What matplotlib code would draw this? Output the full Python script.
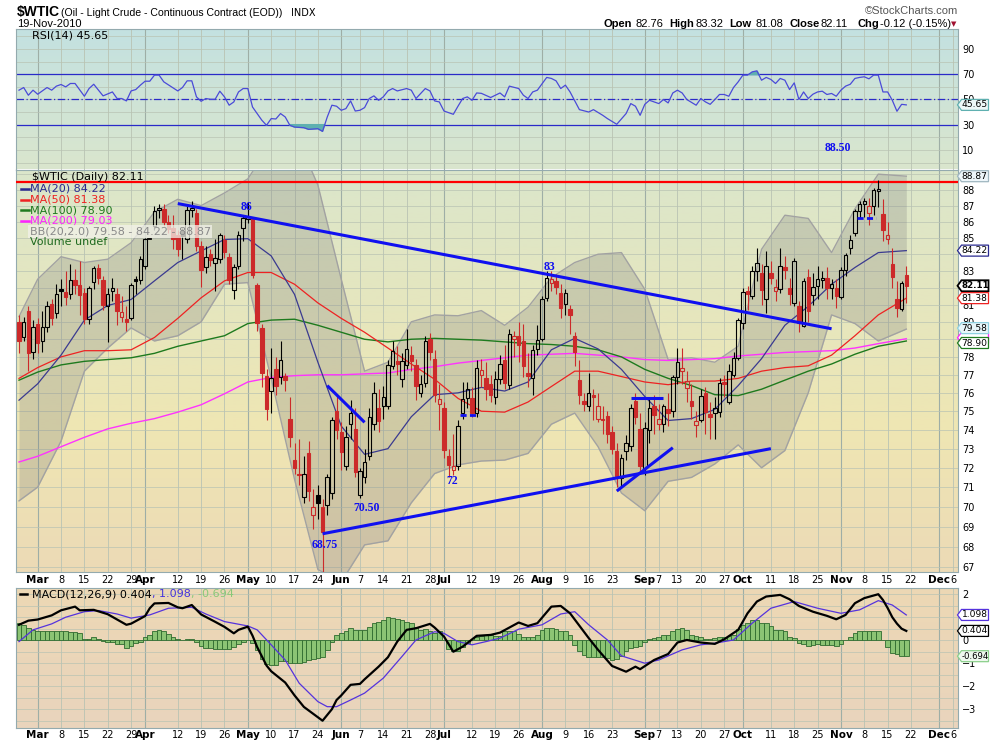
import numpy as np
import pandas as pd
import matplotlib
matplotlib.use('Agg')
import matplotlib.pyplot as plt
from matplotlib.patches import Rectangle, Polygon
from matplotlib.lines import Line2D
from matplotlib.colors import LinearSegmentedColormap

plt.rcParams['font.family'] = ['DejaVu Sans']

# ---------------------------------------------------------------- calendar
# trading days shown on the chart (Good Friday kept, exchange holidays dropped)
holidays = ['2010-05-31', '2010-07-05', '2010-09-06', '2010-11-25']
cal = pd.bdate_range('2010-02-23', '2010-12-10', freq='C', holidays=holidays)


def day(d):
    # trading days counted from 1 Mar 2010
    return cal.get_loc(pd.Timestamp(d)) - 4


# ---------------------------------------------------------------- price data
# daily candles, 23 Feb 2010 .. 19 Nov 2010
opens = [80.0, 79.1, 80.6, 78.3, 79.9, 78.9, 79.7, 81.05, 80.5, 81.9,
         81.75, 81.6, 82.45, 82.15, 81.7, 80.15, 82.35, 83.15, 82.45, 80.9,
         81.8, 81.6, 80.3, 80.15, 80.25, 82.5, 82.45, 83.3, 84.9, 85.7,
         86.75, 86.8, 85.95, 85.6, 85.2, 85.45, 84.9, 86.75, 86.55, 84.5,
         83.25, 84.0, 83.45, 83.7, 84.85, 83.85, 81.85, 83.3, 85.63, 86.15,
         86.2, 82.15, 79.65, 76.95, 76.1, 77.3, 76.9, 76.95, 74.6, 72.4,
         71.7, 70.5, 72.75, 69.6, 70.6, 70.0, 70.1, 70.7, 75.0, 73.9,
         72.1, 74.3, 74.05, 70.6, 71.5, 72.6, 74.3, 75.2, 75.3, 75.3,
         77.5, 77.75, 76.75, 77.55, 78.1, 77.55, 76.0, 76.55, 79.0, 77.9,
         75.4, 75.2, 72.6, 71.87, 72.1, 74.9, 75.7, 75.7, 74.9, 77.0,
         76.8, 76.5, 75.8, 76.75, 77.85, 76.45, 79.0, 79.2, 78.9, 77.1,
         76.8, 78.45, 79.0, 81.4, 82.3, 82.4, 81.7, 81.05, 80.75, 79.2,
         76.7, 75.55, 75.3, 75.9, 74.6, 74.6, 74.75, 73.9, 72.9, 71.45,
         72.85, 73.15, 75.55, 74.05, 72.0, 74.0, 75.3, 74.3, 74.3, 75.1,
         75.0, 76.85, 77.2, 76.27, 75.55, 74.25, 74.55, 76.0, 74.85, 74.9,
         74.95, 76.6, 75.5, 77.0, 77.95, 79.95, 81.8, 81.5, 83.0, 82.85,
         81.3, 82.85, 81.8, 81.9, 83.2, 82.0, 81.1, 80.9, 79.75, 82.65,
         81.55, 82.1, 82.45, 82.6, 82.0, 82.0, 81.45, 83.05, 84.4, 85.3,
         86.65, 87.1, 86.55, 87.0, 87.9, 86.45, 84.9, 83.4, 81.3, 80.75, 82.76]
highs = [80.4, 80.3, 80.9, 80.1, 80.2, 80.6, 81.2, 81.3, 82.2, 82.5,
         83.0, 83.4, 83.1, 83.6, 82.0, 82.1, 83.3, 83.4, 82.7, 82.0,
         82.6, 82.0, 81.5, 80.9, 82.3, 82.7, 83.9, 85.0, 84.9, 87.0,
         87.1, 87.1, 86.4, 86.4, 85.5, 85.6, 87.0, 87.3, 86.8, 84.8,
         84.5, 84.3, 84.9, 85.3, 85.2, 84.1, 83.4, 85.4, 86.4, 87.2,
         86.3, 82.3, 79.9, 77.3, 78.5, 78.0, 78.9, 77.1, 75.8, 73.3,
         73.5, 72.6, 73.4, 70.9, 71.1, 70.4, 71.7, 74.7, 75.9, 74.4,
         74.2, 75.6, 75.2, 72.0, 73.0, 75.2, 76.6, 76.2, 76.4, 77.8,
         78.9, 78.6, 78.2, 79.6, 78.6, 77.9, 77.0, 79.2, 79.35, 78.4,
         76.5, 75.5, 73.0, 73.8, 74.5, 76.6, 76.6, 76.3, 77.8, 77.9,
         77.7, 77.0, 77.2, 78.1, 78.7, 79.6, 79.5, 80.0, 79.9, 78.2,
         78.7, 79.8, 81.5, 83.0, 83.0, 82.8, 82.2, 81.9, 81.0, 79.4,
         77.8, 76.0, 77.1, 76.2, 76.0, 75.3, 75.0, 74.2, 73.3, 72.7,
         73.7, 75.4, 76.0, 74.9, 74.4, 75.8, 75.9, 75.4, 75.4, 76.0,
         77.0, 78.5, 78.5, 77.2, 76.5, 75.0, 76.2, 76.3, 75.5, 75.8,
         76.8, 77.0, 77.6, 78.3, 80.2, 82.0, 82.1, 83.3, 84.4, 83.4,
         84.2, 83.6, 82.5, 84.4, 83.9, 82.6, 83.8, 81.2, 82.6, 83.1,
         82.9, 83.3, 83.0, 83.2, 82.5, 82.5, 83.2, 84.1, 85.2, 86.8,
         87.3, 87.5, 87.5, 88.1, 88.65, 87.4, 86.0, 84.4, 82.4, 82.4, 83.32]
lows = [78.2, 78.9, 77.2, 77.9, 78.2, 78.3, 79.4, 79.8, 80.2, 80.9,
        81.0, 81.3, 81.6, 80.4, 79.9, 79.9, 81.9, 82.2, 80.7, 78.85,
        81.2, 79.8, 80.0, 79.5, 80.1, 81.6, 82.2, 83.1, 84.9, 85.5,
        86.2, 85.7, 85.3, 84.3, 83.9, 83.7, 84.7, 86.3, 84.2, 82.05,
        82.9, 83.3, 81.8, 83.5, 83.8, 82.2, 81.3, 83.1, 84.8, 85.9,
        82.6, 79.5, 76.3, 74.5, 74.9, 75.9, 76.5, 76.1, 73.1, 71.7,
        71.1, 70.2, 70.3, 68.9, 69.4, 64.24, 69.6, 70.4, 73.5, 71.9,
        71.9, 73.5, 71.5, 70.45, 71.2, 72.4, 74.0, 73.9, 74.6, 75.1,
        77.3, 77.0, 76.3, 77.3, 77.2, 75.6, 75.8, 76.3, 77.8, 75.5,
        74.0, 72.5, 71.5, 71.6, 71.9, 74.6, 75.2, 74.7, 74.7, 76.3,
        75.6, 75.5, 75.4, 76.5, 76.2, 76.2, 78.0, 77.7, 76.9, 76.3,
        75.9, 78.1, 78.9, 81.2, 81.8, 81.6, 80.2, 80.4, 79.3, 77.5,
        75.4, 75.0, 75.0, 74.5, 74.4, 73.8, 73.3, 72.7, 71.0, 71.0,
        72.4, 72.9, 74.3, 71.7, 71.6, 73.3, 73.8, 74.0, 73.9, 74.2,
        74.7, 76.5, 76.5, 75.5, 74.6, 73.6, 74.4, 73.8, 73.5, 73.5,
        74.7, 75.8, 75.4, 76.9, 77.8, 79.6, 80.7, 81.3, 82.4, 81.0,
        80.5, 82.2, 81.2, 81.7, 82.5, 81.0, 80.9, 79.4, 79.7, 80.0,
        81.0, 81.3, 82.0, 81.3, 81.3, 80.8, 81.3, 82.7, 84.0, 85.1,
        86.2, 86.3, 85.8, 86.4, 86.9, 84.8, 84.6, 82.0, 80.3, 80.6, 81.08]
closes = [78.9, 80.0, 78.2, 79.7, 78.8, 79.7, 80.9, 80.2, 81.6, 81.8,
          81.45, 82.45, 82.15, 81.55, 80.15, 81.95, 83.15, 82.55, 81.0, 81.65,
          81.95, 80.6, 80.55, 80.0, 82.15, 82.4, 83.7, 84.9, 84.9, 86.65,
          86.85, 85.95, 85.55, 84.9, 84.3, 85.1, 86.75, 86.85, 84.5, 83.05,
          83.85, 83.65, 83.75, 85.15, 84.15, 82.45, 83.2, 85.2, 86.2, 86.3,
          82.75, 79.95, 77.1, 75.1, 76.8, 76.4, 77.8, 76.7, 73.6, 72.0,
          71.6, 71.7, 70.8, 70.0, 70.2, 68.75, 71.5, 74.5, 74.0, 72.8,
          73.6, 74.9, 71.8, 71.85, 72.3, 74.7, 76.0, 74.45, 75.8, 77.55,
          78.35, 77.6, 77.75, 78.45, 77.75, 76.4, 76.5, 78.9, 78.25, 75.9,
          75.65, 72.95, 72.15, 72.1, 74.2, 75.65, 76.2, 74.9, 77.35, 77.25,
          76.2, 75.9, 76.75, 77.6, 76.55, 79.3, 79.2, 78.7, 77.5, 76.95,
          78.4, 78.98, 81.3, 82.6, 82.5, 82.05, 80.8, 81.7, 80.4, 78.25,
          75.9, 75.4, 76.0, 75.8, 75.3, 74.5, 73.8, 73.0, 71.55, 72.5,
          73.3, 75.2, 74.7, 72.1, 74.1, 75.2, 74.8, 74.6, 75.3, 74.9,
          76.85, 77.7, 77.4, 76.64, 75.3, 74.45, 75.85, 74.95, 74.7, 75.2,
          76.55, 76.5, 77.2, 77.95, 80.1, 81.75, 81.6, 83.0, 83.45, 81.85,
          83.3, 82.6, 82.05, 83.3, 83.05, 81.6, 83.6, 79.95, 82.4, 80.6,
          82.05, 82.5, 82.6, 82.0, 82.2, 81.5, 83.05, 83.95, 84.85, 86.65,
          87.1, 87.3, 87.0, 88.0, 88.05, 85.5, 85.2, 82.65, 80.8, 82.25, 82.11]

# moving averages and Bollinger bands, sampled every week (trading day numbers)
ind_days = [-4, 0, 5, 10, 15, 20, 25, 30, 35, 40, 45, 50, 55, 60, 65, 70, 75, 80, 85,
            90, 95, 100, 105, 110, 115, 120, 125, 130, 135, 140, 145, 150, 155, 160,
            165, 170, 175, 180, 186]
ma20 = [75.6, 76.5, 78.1, 80.1, 80.95, 81.3, 82.4, 83.5, 84.2, 84.9, 84.95, 83.9, 81.6,
        77.7, 74.2, 72.7, 73.0, 74.7, 75.9, 76.0, 76.3, 76.1, 76.6, 78.4, 79.05, 78.45,
        77.3, 75.8, 74.5, 74.6, 75.1, 76.4, 77.9, 79.8, 80.9, 82.2, 83.2, 84.1, 84.22]
ma50 = [76.8, 77.4, 78.0, 78.35, 78.35, 78.4, 79.1, 80.2, 81.4, 82.4, 82.9, 82.9, 82.2,
        81.1, 80.2, 79.4, 78.5, 77.6, 76.75, 75.7, 75.0, 74.95, 75.5, 76.35, 77.2, 77.2,
        76.9, 76.6, 76.45, 76.65, 76.65, 76.8, 77.2, 77.4, 77.5, 78.1, 79.2, 80.4, 81.38]
ma100 = [76.7, 77.15, 77.55, 77.75, 77.85, 77.95, 78.2, 78.6, 78.9, 79.2, 79.9, 80.1, 80.15,
         79.8, 79.4, 79.0, 78.85, 79.0, 79.05, 79.0, 78.95, 78.85, 78.75, 78.7, 78.6, 78.4,
         78.0, 77.3, 76.8, 76.4, 75.9, 75.85, 76.2, 76.7, 77.2, 77.6, 78.15, 78.6, 78.9]
ma200 = [72.3, 72.6, 73.1, 73.6, 74.05, 74.35, 74.6, 74.95, 75.35, 75.95, 76.6, 76.85, 76.95,
         77.0, 77.0, 77.05, 77.1, 77.3, 77.45, 77.65, 77.8, 77.95, 78.1, 78.15, 78.2, 78.1,
         78.0, 77.85, 77.8, 77.85, 77.9, 78.05, 78.15, 78.25, 78.3, 78.35, 78.5, 78.75, 79.03]
bb_up = [80.3, 82.5, 83.85, 83.5, 83.7, 84.7, 86.6, 87.4, 87.0, 87.8, 88.7, 91.0, 91.8,
         88.3, 82.5, 77.2, 77.7, 80.0, 80.4, 80.35, 80.65, 79.8, 80.85, 82.6, 83.5, 84.0,
         84.1, 81.9, 77.85, 77.95, 77.7, 78.6, 84.3, 86.4, 86.2, 84.1, 86.8, 89.0, 88.87]
bb_lo = [70.3, 71.0, 73.4, 77.2, 78.5, 79.65, 78.9, 79.2, 80.0, 82.2, 82.3, 76.8, 71.4,
         66.9, 66.3, 68.1, 68.3, 70.2, 71.7, 72.15, 72.35, 72.4, 72.75, 74.3, 74.9, 73.1,
         70.7, 69.8, 71.3, 71.5, 72.2, 73.2, 72.0, 72.9, 76.0, 80.4, 79.9, 78.9, 79.58]

# RSI(14)
rsi_days = [-4, -3, -2, -1, 0, 2, 3, 4, 5, 6, 7, 8, 10, 11, 12, 14, 16, 17, 18, 19, 20, 21,
            22, 23, 24, 25, 26, 27, 30, 31, 32, 33, 34, 35, 36, 37, 38, 39, 40, 41, 42, 43,
            44, 45, 46, 47, 48, 49, 50, 51, 52, 53, 54, 55, 57, 58, 60, 61, 62, 63, 64, 65,
            66, 67, 68, 69, 70, 71, 72, 73, 74, 75, 76, 77, 79, 80, 81, 83, 84, 85, 86, 87,
            89, 90, 91, 92, 93, 94, 95, 97, 98, 99, 100, 101, 103, 104, 105, 106, 107, 109,
            110, 111, 112, 113, 114, 116, 118, 119, 121, 122, 124, 126, 127, 128, 129, 130,
            131, 133, 134, 135, 136, 137, 138, 139, 141, 142, 143, 144, 145, 146, 147, 148,
            149, 150, 151, 152, 153, 154, 155, 156, 157, 158, 159, 160, 161, 162, 163, 164,
            165, 166, 167, 168, 169, 170, 171, 172, 173, 174, 175, 176, 177, 178, 179, 180,
            181, 182, 183, 184, 185, 186]
rsi_vals = [57.3, 59.4, 53.3, 57.3, 54.1, 59.4, 57.3, 60.5, 61.8, 59.9, 62.6, 62.6, 52.5,
            58.6, 62.0, 52.8, 55.9, 50.7, 50.7, 48.8, 56.7, 57.8, 61.3, 64.4, 64.4, 69.2,
            69.2, 63.9, 56.7, 59.4, 64.7, 64.7, 52.0, 48.5, 50.7, 50.1, 50.1, 56.5, 52.0,
            45.4, 48.0, 55.9, 58.6, 58.6, 44.0, 38.8, 33.5, 29.5, 34.8, 34.5, 38.8, 36.1,
            29.5, 28.1, 27.6, 26.3, 26.8, 24.7, 36.0, 45.4, 44.6, 41.4, 42.7, 48.8, 40.8,
            41.4, 43.5, 50.7, 52.8, 49.3, 52.0, 56.7, 58.6, 56.7, 58.6, 57.3, 50.7, 58.6,
            56.7, 48.8, 48.0, 40.8, 38.2, 44.6, 50.7, 52.0, 49.3, 55.1, 54.8, 51.5, 53.3,
            55.1, 52.0, 60.5, 58.6, 53.3, 50.7, 55.9, 57.3, 67.4, 66.6, 64.7, 58.6, 61.3,
            55.9, 41.9, 40.0, 41.9, 37.4, 34.8, 30.3, 38.8, 46.7, 44.6, 37.4, 46.1, 49.3,
            46.7, 49.9, 47.2, 55.1, 57.3, 55.1, 49.9, 45.4, 50.7, 48.0, 46.1, 49.9, 53.9,
            53.9, 52.5, 59.4, 63.9, 69.2, 69.2, 71.8, 72.6, 65.2, 67.4, 65.8, 62.6, 66.6,
            65.2, 57.8, 63.1, 49.9, 55.9, 50.7, 54.1, 55.9, 56.5, 53.9, 54.7, 52.5, 57.3,
            60.5, 62.0, 66.6, 67.4, 67.9, 66.3, 69.2, 69.2, 55.9, 55.9, 49.3, 40.6, 46.1, 45.65]

# MACD(12,26,9)
macd_days = [-4, -2, 0, 3, 5, 8, 9, 12, 15, 17, 19, 20, 23, 24, 25, 28, 30, 31, 33, 35, 38,
             40, 42, 43, 45, 46, 47, 49, 50, 53, 55, 57, 59, 61, 63, 64, 65, 67, 69, 70, 73,
             75, 77, 79, 81, 84, 85, 87, 89, 91, 94, 97, 99, 103, 105, 107, 110, 112, 114,
             118, 120, 123, 126, 128, 129, 132, 135, 137, 139, 142, 145, 147, 150, 152, 154,
             156, 159, 161, 163, 166, 169, 171, 173, 175, 177, 180, 181, 182, 183, 184, 185, 186]
macd_vals = [0.67, 0.85, 0.9, 1.08, 1.3, 1.46, 1.3, 1.32, 1.13, 0.9, 0.67, 0.72, 1.05, 1.39,
             1.6, 1.62, 1.43, 1.39, 1.53, 1.12, 0.8, 0.58, 0.3, 0.45, 0.59, 0.2, -0.3, -1.1,
             -1.35, -1.84, -2.4, -2.9, -3.2, -3.5, -3.0, -2.6, -2.4, -1.94, -1.9, -1.7, -1.15,
             -0.74, -0.06, 0.45, 0.52, 0.71, 0.55, 0.16, -0.5, -0.28, 0.19, 0.23, 0.33, 0.77,
             0.62, 0.74, 1.46, 1.49, 1.17, 0.09, -0.42, -1.12, -1.37, -1.15, -1.26, -0.86,
             -0.6, -0.1, 0.01, -0.1, -0.16, 0.04, 0.45, 1.17, 1.68, 1.9, 1.97, 1.78, 1.49,
             1.24, 1.06, 0.91, 1.1, 1.61, 1.83, 2.0, 1.75, 1.4, 1.0, 0.72, 0.5, 0.404]
signal_days = [-4, -1, 3, 6, 10, 13, 17, 20, 24, 28, 33, 36, 40, 45, 47, 50, 53, 56, 60, 62,
               64, 67, 70, 74, 78, 81, 85, 87, 90, 93, 96, 99, 103, 108, 112, 115, 118, 122,
               125, 130, 133, 138, 142, 145, 149, 153, 157, 162, 167, 172, 176, 180, 183, 186]
signal_vals = [-0.06, 0.45, 0.71, 1.0, 1.24, 1.29, 1.14, 0.96, 1.1, 1.39, 1.43, 1.14, 0.81,
               0.62, 0.45, -0.2, -0.86, -1.87, -2.67, -2.89, -2.89, -2.6, -2.3, -1.65, -0.71,
               0.01, 0.37, 0.30, -0.06, -0.2, -0.06, 0.09, 0.48, 0.67, 1.14, 1.24, 0.67, 0.01,
               -0.68, -1.0, -0.86, -0.42, -0.2, -0.13, 0.01, 0.74, 1.39, 1.68, 1.39, 1.17,
               1.32, 1.72, 1.53, 1.098]
# histogram, one bar per trading day from 23 Feb
hist_vals = [0.74, 0.67, 0.52, 0.45, 0.42, 0.38, 0.41, 0.38, 0.41, 0.41,
             0.38, 0.35, 0.35, 0.33, 0.06, 0.06, 0.13, 0.06, -0.03, -0.06,
             -0.09, -0.16, -0.16, -0.35, -0.25, -0.13, -0.06, 0.13, 0.23, 0.38,
             0.45, 0.41, 0.28, 0.16, 0.04, 0.01, 0.06, 0.06, -0.06, -0.25,
             -0.35, -0.35, -0.39, -0.39, -0.39, -0.39, -0.3, -0.16, -0.06, 0.01,
             -0.13, -0.42, -0.81, -1.04, -1.07, -1.07, -0.9, -0.9, -0.97, -1.0,
             -0.97, -0.93, -0.88, -0.83, -0.78, -0.71, -0.42, -0.06, 0.23, 0.33,
             0.42, 0.55, 0.45, 0.45, 0.45, 0.59, 0.77, 0.81, 0.88, 1.0,
             0.96, 0.91, 0.88, 0.81, 0.77, 0.59, 0.45, 0.48, 0.41, 0.30,
             0.38, 0.01, -0.39, -0.49, -0.45, -0.28, -0.1, 0.01, 0.12, 0.19,
             0.23, 0.23, 0.19, 0.2, 0.42, 0.42, 0.38, 0.28, 0.16, 0.13,
             0.16, 0.23, 0.45, 0.55, 0.55, 0.48, 0.42, 0.38, 0.23, -0.2,
             -0.45, -0.64, -0.71, -0.71, -0.71, -0.74, -0.78, -0.86, -0.83, -0.68,
             -0.49, -0.35, -0.3, -0.25, -0.06, 0.04, 0.09, 0.16, 0.23, 0.23,
             0.38, 0.48, 0.52, 0.45, 0.23, 0.19, 0.13, 0.06, 0.06, 0.09,
             0.16, 0.16, 0.19, 0.23, 0.48, 0.67, 0.77, 0.86, 0.88, 0.74,
             0.74, 0.62, 0.45, 0.45, 0.38, 0.16, 0.09, -0.13, -0.16, -0.25,
             -0.2, -0.16, -0.2, -0.2, -0.2, -0.25, -0.16, 0.01, 0.13, 0.33,
             0.41, 0.41, 0.41, 0.41, 0.41, 0.01, -0.3, -0.57, -0.59, -0.68, -0.694]

# hand-drawn annotations: (start date, price, end date, price)
trend_lines = [('2010-04-12', 87.13, '2010-10-28', 79.6),
               ('2010-05-25', 68.65, '2010-10-11', 73.0),
               ('2010-05-26', 76.4, '2010-06-08', 74.4),
               ('2010-08-27', 75.7, '2010-09-08', 75.7),
               ('2010-08-24', 70.8, '2010-09-10', 73.05)]
dashed_lines = [('2010-07-08', 74.8, '2010-07-13', 74.8),
                ('2010-11-05', 86.2, '2010-11-10', 86.2)]
resistance = 88.50
price_notes = [('86', 44.8, 86.9), ('83', 109.7, 83.2), ('88.50', 171.4, 90.68),
               ('68.75', 61.5, 68.1), ('70.50', 70.5, 69.95), ('72', 88.8, 71.33)]

tick_dates = ['2010-03-01', '2010-03-08', '2010-03-15', '2010-03-22', '2010-03-29',
              '2010-04-01', '2010-04-12', '2010-04-19', '2010-04-26', '2010-05-03',
              '2010-05-10', '2010-05-17', '2010-05-24', '2010-06-01', '2010-06-07',
              '2010-06-14', '2010-06-21', '2010-06-28', '2010-07-01', '2010-07-12',
              '2010-07-19', '2010-07-26', '2010-08-02', '2010-08-09', '2010-08-16',
              '2010-08-23', '2010-09-01', '2010-09-07', '2010-09-13', '2010-09-20',
              '2010-09-27', '2010-10-01', '2010-10-11', '2010-10-18', '2010-10-25',
              '2010-11-01', '2010-11-08', '2010-11-15', '2010-11-22', '2010-12-01',
              '2010-12-06']
tick_labels = ['Mar', '8', '15', '22', '29', 'Apr', '12', '19', '26', 'May', '10', '17',
               '24', 'Jun', '7', '14', '21', '28', 'Jul', '12', '19', '26', 'Aug', '9',
               '16', '23', 'Sep', '7', '13', '20', '27', 'Oct', '11', '18', '25', 'Nov',
               '8', '15', '22', 'Dec', '6']
price_ticks = [67, 68, 69, 70, 71, 72, 73, 74, 75, 76, 77, 78, 80, 81, 83, 85, 86, 87, 88]

# ---------------------------------------------------------------- figure
W, H = 990, 744
fig = plt.figure(figsize=(W / 100, H / 100), dpi=100)
fig.patch.set_facecolor('white')


def box(x0, y0, x1, y1):
    return [x0 / W, 1 - y1 / H, (x1 - x0) / W, (y1 - y0) / H]


def fx(x):
    return x / W


def fy(y):
    return 1 - y / H


ax_rsi = fig.add_axes(box(16.3, 29.3, 958, 169.5))
ax = fig.add_axes(box(16.3, 169.5, 958, 572))
ax_macd = fig.add_axes(box(16.3, 588, 958, 728.3))

XL = (-4.58, 197.07)
RED = '#cc2a2a'
GRID = '#b9c3b3'
MGRID = '#9eaea6'
SPINE = '#93aaae'


def gradient(a, stops, colors):
    cmap = LinearSegmentedColormap.from_list('bg', list(zip(stops, colors)))
    g = np.linspace(0, 1, 256).reshape(-1, 1)
    a.imshow(g, cmap=cmap, aspect='auto', extent=(0, 1, 0, 1), origin='upper',
             transform=a.transAxes, zorder=-10, interpolation='bilinear')


gradient(ax_rsi, [0, 1], ['#c3e1e1', '#dae6cd'])
gradient(ax, [0, 0.65, 1], ['#dbe6cb', '#efe6b3', '#ecdab6'])
gradient(ax_macd, [0, 1], ['#edd8b4', '#e9d4bd'])

tick_pos = [day(d) for d in tick_dates]
for a in (ax_rsi, ax, ax_macd):
    for p, lab in zip(tick_pos, tick_labels):
        month = lab.isalpha()
        a.axvline(p, color=MGRID if month else GRID, lw=0.8 if month else 0.6, zorder=-5)
    for s in a.spines.values():
        s.set_color(SPINE)
        s.set_linewidth(0.8)
    a.set_xlim(*XL)
    a.yaxis.tick_right()
    a.tick_params(axis='both', length=0, labelsize=7, pad=2)
    a.set_xticks(tick_pos)

# ---------------------------------------------------------------- RSI panel
for v in range(-10, 110, 10):
    ax_rsi.axhline(v, color=GRID, lw=0.5, zorder=-5)
rx = np.array(rsi_days)
rv = np.array(rsi_vals)
ax_rsi.axhline(70, color='#2a2ac8', lw=0.9)
ax_rsi.axhline(30, color='#2a2ac8', lw=0.9)
ax_rsi.axhline(50, color='#2a2ac8', lw=0.9, ls=(0, (6, 2, 1, 2)))
ax_rsi.fill_between(rx, rv, 30, where=rv < 30, interpolate=True, color='#5fb0b0', zorder=2)
ax_rsi.fill_between(rx, rv, 70, where=rv > 70, interpolate=True, color='#5fb0b0', zorder=2)
ax_rsi.plot(rx, rv, color='#4a4ad8', lw=0.9, zorder=3)
ax_rsi.set_ylim(-5.5, 105.5)
ax_rsi.set_yticks([10, 30, 50, 70, 90])
ax_rsi.tick_params(axis='y', pad=3)
ax_rsi.set_xticklabels([])

# ---------------------------------------------------------------- price panel
ax.set_yscale('log')
for v in range(66, 90):
    ax.axhline(v, color=GRID, lw=0.5, zorder=-5)
ix = np.array(ind_days)
ax.fill_between(ix, bb_lo, bb_up, color='#7f7f7f', alpha=0.27, lw=0, zorder=0)
ax.plot(ix, bb_up, color='#a2a2a2', lw=1.0, zorder=1)
ax.plot(ix, bb_lo, color='#a2a2a2', lw=1.0, zorder=1)
ax.plot(ix, ma200, color='#ff33ff', lw=1.0, zorder=2)
ax.plot(ix, ma100, color='#1e7a1e', lw=1.0, zorder=2)
ax.plot(ix, ma50, color='#ee2222', lw=0.9, zorder=2)
ax.plot(ix, ma20, color='#3a3a90', lw=0.9, zorder=2)

ax.axhline(resistance, color='#ff0000', lw=1.6, zorder=4)

xs = np.arange(len(closes)) - 4
prev = [opens[0]] + closes[:-1]
w = 0.74
for x, o, h, l, c, p in zip(xs, opens, highs, lows, closes, prev):
    col = 'black' if c >= p else RED
    top, bot = max(o, c), min(o, c)
    ax.plot([x, x], [top, h], color=col, lw=0.8, zorder=5, solid_capstyle='butt')
    ax.plot([x, x], [l, bot], color=col, lw=0.8, zorder=5, solid_capstyle='butt')
    if top - bot < 0.04:
        ax.plot([x - w / 2, x + w / 2], [c, c], color=col, lw=1.3, zorder=6)
    else:
        fc = col if c < o else 'none'
        ax.add_patch(Rectangle((x - w / 2, bot), w, top - bot, facecolor=fc,
                               edgecolor=col, lw=0.8, zorder=6))

for d0, p0, d1, p1 in trend_lines:
    ax.plot([day(d0), day(d1)], [p0, p1], color='#1010f0', lw=2.2, zorder=7,
            solid_capstyle='butt')
for d0, p0, d1, p1 in dashed_lines:
    ax.plot([day(d0) - 0.5, day(d1) + 0.5], [p0, p0], color='#1010f0', lw=2.0, zorder=7,
            ls=(0, (2.2, 1.2)))
for s, x, y in price_notes:
    ax.text(x, y, s, color='#1010f0', fontsize=8.5, fontweight='bold',
            family='Liberation Serif', ha='center', va='center', zorder=8, clip_on=False)

ax.set_ylim(66.78, 89.3)
ax.set_yticks(price_ticks)
ax.set_yticklabels([str(v) for v in price_ticks])
ax.yaxis.set_minor_locator(matplotlib.ticker.NullLocator())
ax.tick_params(axis='y', which='both', length=0, pad=3)
ax.set_xticklabels(tick_labels)
ax.tick_params(axis='x', pad=2.5)

# ---------------------------------------------------------------- MACD panel
for v in np.arange(-4, 2.6, 0.5):
    ax_macd.axhline(v, color=GRID, lw=0.5, zorder=-5)
ax_macd.bar(xs, hist_vals, width=1.0, color='#8cc474', edgecolor='#2f6b2f', lw=0.6, zorder=2)
ax_macd.plot(signal_days, signal_vals, color='#5533dd', lw=0.9, zorder=3)
ax_macd.plot(macd_days, macd_vals, color='black', lw=1.6, zorder=4)
ax_macd.set_ylim(-3.83, 2.27)
ax_macd.set_yticks([2, 0, -1, -2, -3])
ax_macd.tick_params(axis='y', pad=3)
ax_macd.set_xticklabels(tick_labels)
ax_macd.tick_params(axis='x', pad=1.5)

for a in (ax, ax_macd):
    for t, lab in zip(a.get_xticklabels(), tick_labels):
        if lab.isalpha():
            t.set_fontweight('bold')
            t.set_fontsize(7.5)

# ---------------------------------------------------------------- right value tags


def tag(a, y, s, ec, fc='white', bold=False, lw=0.9, dy=0.0, fs=6.6):
    yc = H - a.transData.transform((0, y))[1] + dy
    x0, x1, hh = 957.5, 988.5, 5.5
    pts = [(x0, yc), (x0 + 4, yc - hh), (x1, yc - hh), (x1, yc + hh), (x0 + 4, yc + hh)]
    fig.add_artist(Polygon([(fx(px), fy(py)) for px, py in pts], closed=True, fc=fc, ec=ec,
                           lw=lw, transform=fig.transFigure, zorder=20))
    if s:
        fig.text(fx(x0 + 4), fy(yc), s, fontsize=fs, fontweight='bold' if bold else 'normal',
                 ha='left', va='center', zorder=21)


tag(ax_rsi, rsi_vals[-1], '45.65', '#5fb0b0', fc='#eef8f8')
tag(ax, bb_up[-1], '88.87', '#9fb6c0', fc='#eef6fa')
tag(ax, ma20[-1], '84.22', '#2a2a90')
tag(ax, closes[-1], '82.11', 'black', bold=True, lw=1.3, fs=6.3)
tag(ax, ma50[-1], '81.38', '#ee2222')
tag(ax, ma200[-1], '', '#ff22ff', dy=-1)          # MA(200) tag sits under its neighbours
tag(ax, bb_lo[-1], '79.58', '#8fd0e0', fc='#e8f6fa', dy=-1)
tag(ax, ma100[-1], '78.90', '#1e7a1e', dy=2)
tag(ax_macd, signal_vals[-1], '1.098', '#5533dd')
tag(ax_macd, macd_vals[-1], '0.404', 'black')
tag(ax_macd, hist_vals[-1], '-0.694', '#8cd08c', fc='#eef8ee', fs=6.1)

# ---------------------------------------------------------------- header and legends
fig.text(fx(17), fy(16), '$WTIC', fontsize=10, fontweight='bold', family='Liberation Sans',
         va='baseline')
fig.text(fx(61), fy(16), '(Oil - Light Crude - Continuous Contract (EOD))', fontsize=7.6,
         family='Liberation Sans', va='baseline')
fig.text(fx(291), fy(16), 'INDX', fontsize=7, family='DejaVu Sans', va='baseline')
fig.text(fx(17), fy(27), '19-Nov-2010', fontsize=8, family='Liberation Sans', va='baseline')
fig.text(fx(958), fy(14), '\u00a9StockCharts.com', fontsize=8, family='Liberation Sans',
         color='#555555', ha='right', va='baseline')
head = [('Open', 604, True), ('82.76', 636, False), ('High', 669, True),
        ('83.32', 695, False), ('Low', 729, True), ('81.08', 756, False),
        ('Close', 789, True), ('82.11', 820.5, False), ('Chg', 857, True),
        ('-0.12 (-0.15%)', 880, False)]
for s, x, b in head:
    fig.text(fx(x), fy(27), s, fontsize=8, family='Liberation Sans',
             fontweight='bold' if b else 'normal', va='baseline')
fig.text(fx(954), fy(24), '\u25bc', fontsize=5, color='#a01030', ha='center', va='center')

LF = 8
fig.text(fx(32), fy(36), 'RSI(14) 45.65', fontsize=LF, va='center')
fig.text(fx(32), fy(177.3), '$WTIC (Daily) 82.11', fontsize=LF, va='center', zorder=30)
legend = [('MA(20) 84.22', '#2a2a90', 188.8), ('MA(50) 81.38', '#ee2222', 199.5),
          ('MA(100) 78.90', '#1e7a1e', 210.2), ('MA(200) 79.03', '#ff22ff', 220.9)]
for s, c, y in legend:
    fig.add_artist(Line2D([fx(20.5), fx(28.5)], [fy(y), fy(y)], color=c, lw=1.8, zorder=30))
    fig.text(fx(29.5), fy(y), s, fontsize=LF, color=c, va='center', zorder=30)
fig.text(fx(29.5), fy(231.6), 'BB(20,2.0) 79.58 - 84.22 - 88.87', fontsize=LF,
         color='#8a8a8a', va='center', zorder=30,
         bbox=dict(boxstyle='square,pad=0.1', fc='#f2f2ea', ec='none', alpha=0.75))
fig.text(fx(29.5), fy(242.3), 'Volume undef', fontsize=LF, color='#1e6a1e', va='center',
         zorder=30)

fig.add_artist(Line2D([fx(20), fx(27)], [fy(594.3), fy(594.3)], color='black', lw=1.8))
renderer = fig.canvas.get_renderer()
parts = [('MACD(12,26,9) 0.404', 'black'), (', 1.098', '#4433dd'), (', -0.694', '#88c878')]
xp = 32
for s, c in parts:
    t = fig.text(fx(xp), fy(594.3), s, fontsize=LF, color=c, va='center')
    xp += t.get_window_extent(renderer).width

fig.savefig('out.png', dpi=100, facecolor='white')
